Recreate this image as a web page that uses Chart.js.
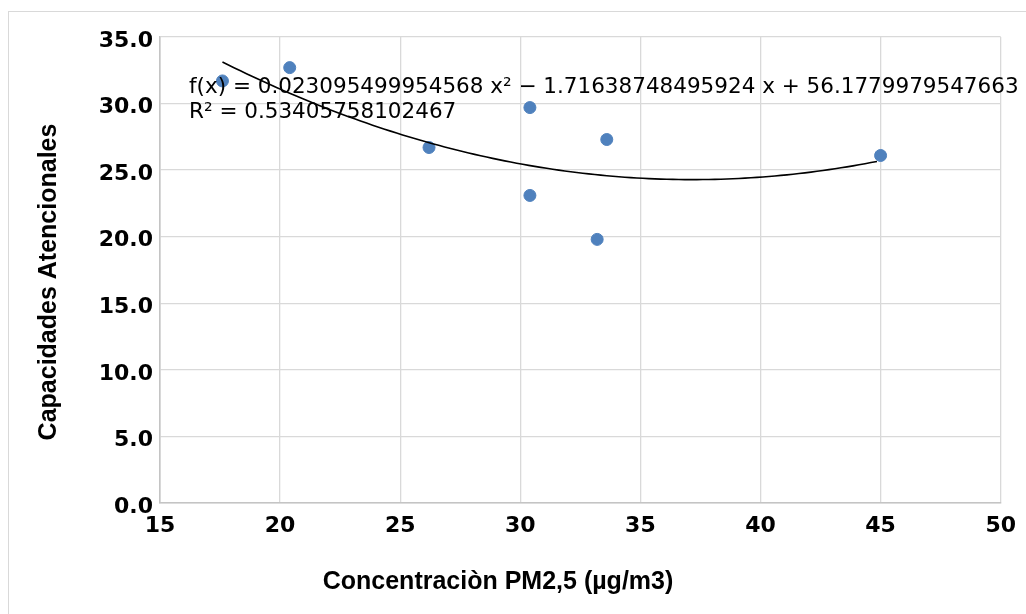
<!DOCTYPE html>
<html>
<head>
<meta charset="utf-8">
<script src="https://cdn.jsdelivr.net/npm/chart.js@4/dist/chart.umd.min.js"></script>
<style>
  html, body { margin: 0; padding: 0; background: #fff; overflow: hidden; }
  #frame { position: absolute; left: 8px; top: 11px; width: 1100px; height: 700px; border: 1px solid #d9d9d9; }
  #chart { position: absolute; left: 0; top: 0; }
</style>
</head>
<body>
<div id="frame"></div>
<canvas id="chart" width="1026" height="614"></canvas>
<script>
// measured values
const pm25 = [17.6, 20.4, 26.2, 30.4, 30.4, 33.2, 33.6, 45.0];
const atencion = [31.7, 32.7, 26.7, 29.7, 23.1, 19.8, 27.3, 26.1];

// polynomial trend (a x^2 + b x + c), as printed on the chart
const trendCoef = [0.023095499954568, -1.71638748495924, 56.1779979547663];
const trendText = [
  'f(x) = 0.023095499954568 x\u00b2 \u2212 1.71638748495924 x + 56.1779979547663',
  'R\u00b2 = 0.53405758102467',
];

const xTitle = 'Concentraci\u00f2n PM2,5 (\u00b5g/m3)';
const yTitle = 'Capacidades Atencionales';

const trendPoints = [];
for (let x = Math.min(...pm25); x <= Math.max(...pm25) + 1e-9; x += 0.25) {
  trendPoints.push({ x: x, y: trendCoef[0] * x * x + trendCoef[1] * x + trendCoef[2] });
}

const scatterPoints = pm25.map((x, i) => ({ x: x, y: atencion[i] }));

const titlesPlugin = {
  id: 'titles',
  afterDatasetsDraw(chart) {
    const ctx = chart.ctx;
    const area = chart.chartArea;
    ctx.save();
    ctx.fillStyle = '#000';

    // trend equation
    ctx.font = '21.5px "DejaVu Sans"';
    ctx.textAlign = 'left';
    ctx.textBaseline = 'alphabetic';
    ctx.fillText(trendText[0], 189, 93);
    ctx.fillText(trendText[1], 189, 118);

    // axis titles
    ctx.font = 'bold 25px "Liberation Sans"';
    ctx.textAlign = 'center';
    ctx.textBaseline = 'middle';
    ctx.fillText(xTitle, 498, 582);

    ctx.translate(49, (area.top + area.bottom) / 2 + 12);
    ctx.rotate(-Math.PI / 2);
    ctx.fillText(yTitle, 0, 0);
    ctx.restore();
  }
};

new Chart(document.getElementById('chart'), {
  type: 'scatter',
  data: {
    datasets: [
      {
        label: 'datos',
        data: scatterPoints,
        backgroundColor: '#4f81bd',
        borderColor: '#4f81bd',
        pointRadius: 6,
        pointHoverRadius: 6,
        order: 2,
      },
      {
        type: 'line',
        label: 'tendencia',
        data: trendPoints,
        borderColor: '#000',
        borderWidth: 1.6,
        pointRadius: 0,
        fill: false,
        tension: 0,
        order: 1,
      },
    ],
  },
  options: {
    responsive: false,
    animation: false,
    layout: { padding: { left: 0, top: 37, right: 25, bottom: 0 } },
    plugins: {
      legend: { display: false },
      tooltip: { enabled: false },
    },
    scales: {
      x: {
        type: 'linear',
        min: 15,
        max: 50,
        ticks: {
          stepSize: 5,
          padding: 10,
          color: '#000',
          font: { family: 'DejaVu Sans', size: 22, weight: 'bold' },
        },
        grid: { color: '#d9d9d9', lineWidth: 1.3, drawTicks: false },
        border: { color: '#c4c4c4', width: 1.6 },
        afterFit(scale) { scale.height = 111; },
      },
      y: {
        min: 0,
        max: 35,
        ticks: {
          stepSize: 5,
          padding: 7,
          labelOffset: 4,
          color: '#000',
          font: { family: 'DejaVu Sans', size: 22, weight: 'bold' },
          callback: v => v.toFixed(1),
        },
        grid: { color: '#d9d9d9', lineWidth: 1.3, drawTicks: false },
        border: { color: '#c4c4c4', width: 1.6 },
        afterFit(scale) { scale.width = 160; },
      },
    },
  },
  plugins: [titlesPlugin],
});
</script>
</body>
</html>
